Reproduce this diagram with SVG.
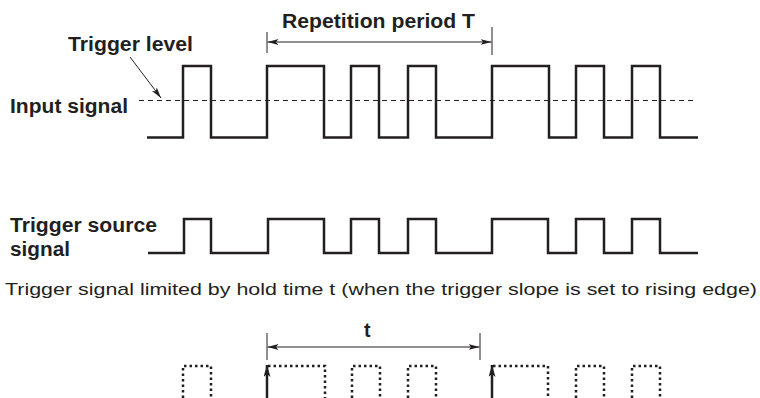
<svg xmlns="http://www.w3.org/2000/svg" width="760" height="398" viewBox="0 0 760 398">
<style>
.lbl{font-family:"Liberation Sans",Arial,Helvetica,sans-serif;font-weight:bold;font-size:19.5px;fill:#231f20}
.cap{font-family:"Liberation Sans",Arial,Helvetica,sans-serif;font-size:17px;fill:#231f20}
.sig{fill:none;stroke:#231f20;stroke-width:2.5;stroke-linejoin:miter}
.dot{fill:none;stroke:#231f20;stroke-width:2.5;stroke-dasharray:2.5 3}
.thin{fill:none;stroke:#231f20;stroke-width:1}
.dash{fill:none;stroke:#231f20;stroke-width:1;stroke-dasharray:5 4}
</style>
<defs>
<marker id="ah" markerUnits="userSpaceOnUse" markerWidth="12" markerHeight="7" refX="11" refY="3" orient="auto-start-reverse">
<path d="M0,0 L11,3 L0,6 L2.5,3 Z" fill="#231f20"/>
</marker>
<marker id="ahb" markerUnits="userSpaceOnUse" markerWidth="13" markerHeight="8" refX="12" refY="3.5" orient="auto">
<path d="M0,0 L12,3.5 L0,7 L3,3.5 Z" fill="#231f20"/>
</marker>
</defs>
<rect width="760" height="398" fill="#ffffff"/>

<g id="input-signal">
<text class="lbl" x="10" y="113" textLength="118" lengthAdjust="spacingAndGlyphs">Input signal</text>
<path class="sig" d="M147,137.5 H183 V66 H211 V137.5 H267 V66 H324 V137.5 H351 V66 H379 V137.5 H408 V66 H436 V137.5 H492 V66 H549 V137.5 H576 V66 H604 V137.5 H632 V66 H660 V137.5 H698"/>
</g>

<g id="trigger-level">
<text class="lbl" x="68" y="51" textLength="125" lengthAdjust="spacingAndGlyphs">Trigger level</text>
</g>

<g id="repetition-period">
<text class="lbl" x="282" y="28" textLength="193" lengthAdjust="spacingAndGlyphs">Repetition period T</text>
</g>

<g id="trigger-source-signal">
<text class="lbl" x="10" y="232" textLength="147" lengthAdjust="spacingAndGlyphs">Trigger source</text>
<text class="lbl" x="10" y="256" textLength="60" lengthAdjust="spacingAndGlyphs">signal</text>
<path class="sig" d="M148,253 H184 V219 H211 V253 H268 V219 H324 V253 H351 V219 H379 V253 H408 V219 H436 V253 H492 V219 H548 V253 H576 V219 H604 V253 H632 V219 H660 V253 H698"/>
</g>

<g id="caption">
<text class="cap" x="5" y="295" textLength="752" lengthAdjust="spacingAndGlyphs">Trigger signal limited by hold time t (when the trigger slope is set to rising edge)</text>
</g>

<g id="hold-time">
<text class="lbl" x="364" y="337">t</text>
</g>

<g id="trigger-signal">
<path class="dot" d="M183,398 V366 H211 V398"/>
<path class="dot" d="M268,366 H325 V398"/>
<path class="dot" d="M352,398 V366 H380 V398"/>
<path class="dot" d="M408,398 V366 H436 V398"/>
<path class="dot" d="M493,366 H548 V398"/>
<path class="dot" d="M576,398 V366 H604 V398"/>
<path class="dot" d="M632,398 V366 H660 V398"/>
</g>

<g id="connectors">
<line class="dash" x1="139" y1="100.5" x2="693" y2="100.5"/>
<line class="thin" x1="130" y1="57" x2="161" y2="98" marker-end="url(#ah)"/>
<line class="thin" x1="267" y1="32" x2="267" y2="53"/>
<line class="thin" x1="492" y1="27" x2="492" y2="55"/>
<line class="thin" x1="267.5" y1="42" x2="491.5" y2="42" marker-start="url(#ah)" marker-end="url(#ah)"/>
<line class="thin" x1="267" y1="333" x2="267" y2="360"/>
<line class="thin" x1="480" y1="333" x2="480" y2="360"/>
<line class="thin" x1="267.5" y1="347" x2="479.5" y2="347" marker-start="url(#ah)" marker-end="url(#ah)"/>
<line class="sig" x1="267" y1="398" x2="267" y2="365" stroke-width="2" marker-end="url(#ahb)"/>
<line class="sig" x1="492" y1="398" x2="492" y2="365" stroke-width="2" marker-end="url(#ahb)"/>
</g>
</svg>
